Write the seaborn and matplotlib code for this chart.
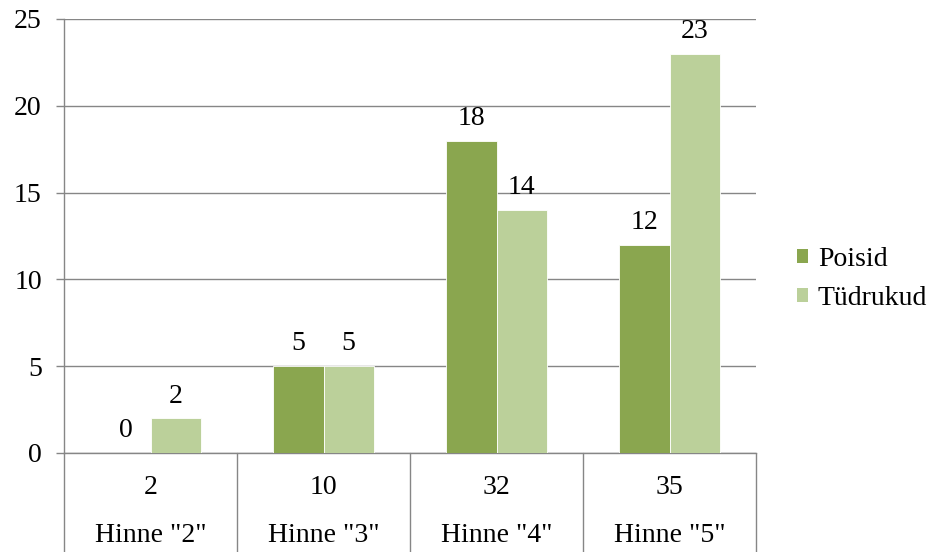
import matplotlib
matplotlib.use("Agg")
import matplotlib.pyplot as plt
import matplotlib.transforms as mtransforms
import pandas as pd
import seaborn as sns

grades = ['Hinne "2"', 'Hinne "3"', 'Hinne "4"', 'Hinne "5"']
totals = [2, 10, 32, 35]
boys = [0, 5, 18, 12]
girls = [2, 5, 14, 23]
series = ["Poisid", "Tüdrukud"]
colors = ["#8AA64F", "#BBD09A"]
yticks = [0, 5, 10, 15, 20, 25]

df = pd.DataFrame({
    "grade": grades * 2,
    "count": boys + girls,
    "group": [series[0]] * 4 + [series[1]] * 4,
})

sns.set_theme(style="white")
plt.rcParams["font.family"] = ["Liberation Serif", "DejaVu Serif"]
plt.rcParams["text.color"] = "black"

W, H = 931, 552
fig = plt.figure(figsize=(W / 100, H / 100), dpi=100)
ax = fig.add_axes([64 / W, (H - 453) / H, 692 / W, 434 / H])

sns.barplot(data=df, x="grade", y="count", hue="group", order=grades,
            hue_order=series, palette=colors, width=0.58, gap=0,
            edgecolor="white", linewidth=0.6, saturation=1, ax=ax, zorder=3)

grid_col = "#868686"
ax.set_ylim(0, 25)
ax.set_xlim(-0.5, 3.5)
ax.set_yticks(yticks)
ax.set_yticklabels([str(v) for v in yticks], fontsize=20, color="black")
ax.yaxis.grid(True, color=grid_col, linewidth=1)
ax.set_axisbelow(True)
ax.tick_params(axis="y", direction="out", length=6, width=1, color=grid_col,
               pad=10, left=True)
ax.tick_params(axis="x", bottom=False, labelbottom=False)
ax.set_xlabel("")
ax.set_ylabel("")
for side in ["top", "right"]:
    ax.spines[side].set_visible(False)
for side in ["left", "bottom"]:
    ax.spines[side].set_color(grid_col)
    ax.spines[side].set_linewidth(1)

for cont in ax.containers:
    ax.bar_label(cont, labels=[f"{v:g}" for v in cont.datavalues],
                 padding=7, fontsize=20, color="black")

# category table beneath the axis
trans = mtransforms.blended_transform_factory(ax.transData, ax.transAxes)
table_depth = 99 / 434
for xb in [-0.5, 0.5, 1.5, 2.5, 3.5]:
    ax.plot([xb, xb], [0, -table_depth - 0.01], transform=trans,
            color=grid_col, linewidth=1, clip_on=False)
for i, (g, t) in enumerate(zip(grades, totals)):
    ax.text(i, -(487 - 453) / 434, str(t), transform=trans, ha="center",
            va="center", fontsize=20, color="black")
    ax.text(i, -(536 - 453) / 434, g, transform=trans, ha="center",
            va="center", fontsize=20, color="black")

leg = fig.legend(*ax.get_legend_handles_labels(), loc="center left",
                 bbox_to_anchor=(797 / W, 1 - 279 / H),
                 frameon=False, fontsize=20, handlelength=0.4,
                 handleheight=0.4, handletextpad=0.35, labelspacing=0.5,
                 borderpad=0, borderaxespad=0)
ax.get_legend().remove()
for h in leg.legend_handles:
    h.set_edgecolor("none")

fig.savefig("out.png", dpi=100)
